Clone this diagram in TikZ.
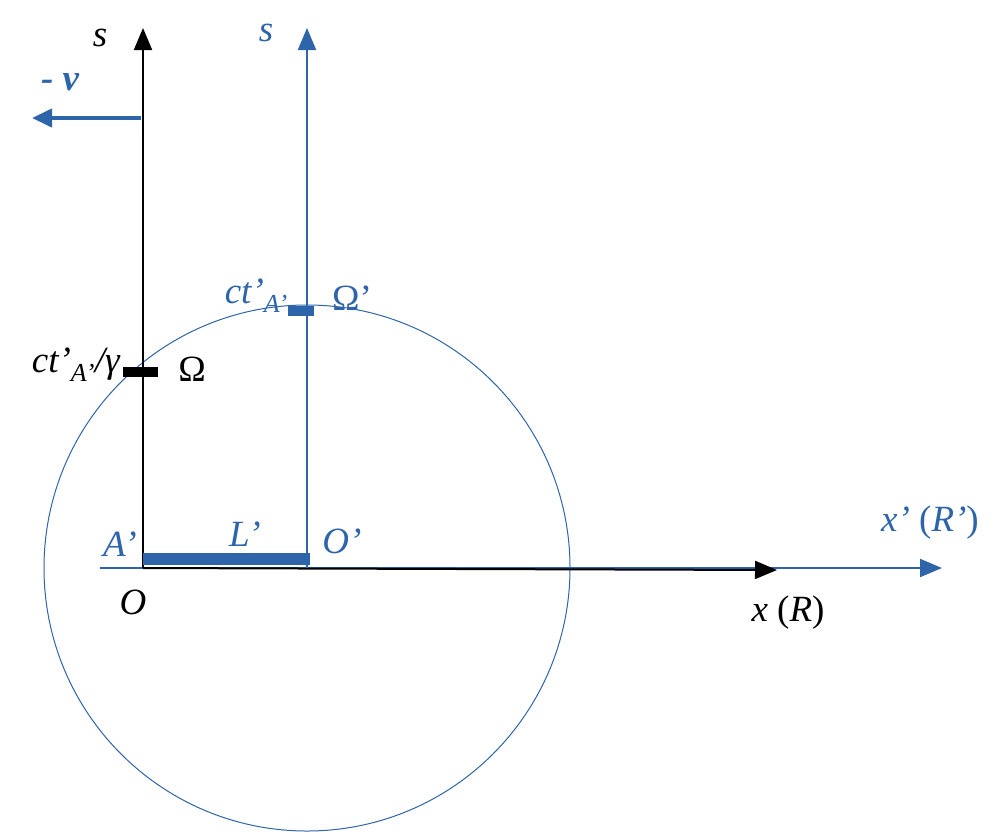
\documentclass[tikz,border=0pt]{standalone}
\usepackage{fontspec}
\setmainfont{Liberation Serif}
\usetikzlibrary{arrows.meta}
\definecolor{bl}{RGB}{46,100,170}
\begin{document}
\begin{tikzpicture}[x=1pt,y=-1pt,
  lab/.style={font=\fontsize{37}{40}\selectfont\itshape, inner sep=0pt},
  ax/.style={line width=2pt,-{Triangle[length=22pt,width=18pt]}}]
\useasboundingbox (0,0) rectangle (1000,833);
\coordinate (O) at (143,568);
\coordinate (Op) at (307,568);
\coordinate (Ap) at (100,568);
\coordinate (stop) at (143,28);
\coordinate (sptop) at (307,28);
\coordinate (xend) at (777,570);
\coordinate (xpend) at (942,568);
\draw[bl,line width=1pt] (Op) circle (263);
\draw[bl,ax] (Ap) -- (xpend);
\draw[ax] (O) -- (xend);
\draw[ax] (O) -- (stop);
\draw[bl,ax] (Op) -- (sptop);
\coordinate (va) at (141,118); \coordinate (vb) at (32,118);
\draw[bl,line width=4pt,-{Triangle[length=20pt,width=18pt]}] (va) -- (vb);
\node[lab,bl,font=\fontsize{37}{40}\selectfont\bfseries\itshape] (v) at (60,82) {- v};
\draw[bl,line width=12pt] (143,559) coordinate (b1) -- (310,559) coordinate (b2);
\draw[line width=10pt] (123,372) coordinate (t1) -- (158,372) coordinate (t2);
\draw[bl,line width=10pt] (288,311) coordinate (u1) -- (314,311) coordinate (u2);
\node[lab] (s1) at (100,38) {s};
\node[lab,bl] (s2) at (266,33) {s};
\node[lab,anchor=east] (ct1) at (120,365) {ct’\textsubscript{A’}/γ};
\node[lab,font=\fontsize{37}{40}\selectfont] (om) at (192,369) {Ω};
\node[lab,bl,anchor=east] (ct2) at (288,296) {ct’\textsubscript{A’}};
\node[lab,bl,font=\fontsize{37}{40}\selectfont] (omp) at (352,298) {Ω’};
\node[lab,bl] (A) at (120,544) {A’};
\node[lab,bl] (L) at (245,534) {L’};
\node[lab,bl] (Oq) at (342,541) {O’};
\node[lab] (Ol) at (133,602) {O};
\node[lab] (xr) at (788,613) {x \textup{(}R\textup{)}};
\node[lab,bl] (xpr) at (930,523) {x’ \textup{(}R’\textup{)}};
\end{tikzpicture}
\end{document}
